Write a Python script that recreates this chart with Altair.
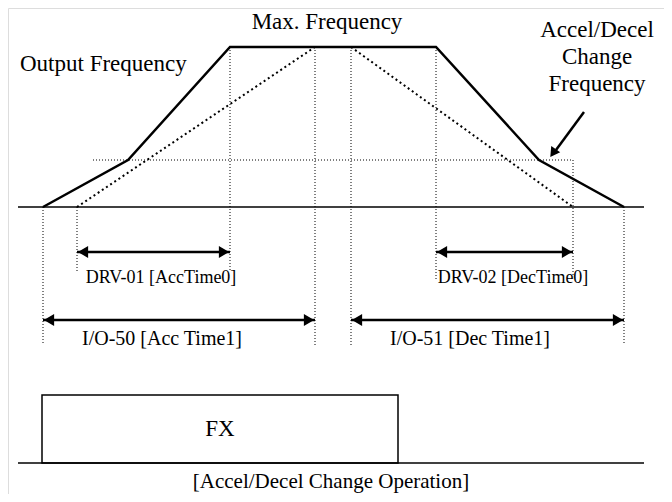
import altair as alt
import pandas as pd

# Diagram geometry in reference pixel units (x: time axis, y: frequency axis, downward)
out_x = [43, 128, 230, 436, 539, 624]
out_y = [207, 160, 47, 47, 160, 207]

acc_x = [77, 315]
acc_y = [207, 47]
dec_x = [351, 573]
dec_y = [47, 207]

base_x = [18, 644]
base_y = 207
knee_y = 160
knee_x = [93, 573]

vlines_x = [43, 77, 230, 315, 351, 436, 573, 624]
vlines_y1 = [207, 207, 47, 47, 47, 47, 160, 207]
vlines_y2 = [345, 273, 272, 345, 345, 280, 275, 345]

arrows = [
    # x1, x2, y, label, label_x, label_y, size
    (77, 230, 252, "DRV-01 [AccTime0]", 161, 278, 18),
    (436, 573, 252, "DRV-02 [DecTime0]", 513, 278, 18),
    (43, 315, 320, "I/O-50 [Acc Time1]", 162, 339, 20),
    (351, 624, 320, "I/O-51 [Dec Time1]", 470, 339, 20),
]

fx_box = (42, 398, 395, 463)
fx_line_x = [18, 644]

labels = [
    ("Max. Frequency", 327, 22, "center", 23),
    ("Output Frequency", 20, 64, "left", 23),
    ("Accel/Decel", 597, 30, "center", 23),
    ("Change", 597, 57, "center", 23),
    ("Frequency", 597, 84, "center", 23),
    ("FX", 220, 429, "center", 23),
    ("[Accel/Decel Change Operation]", 331, 482, "center", 21),
]

FONT = "Liberation Serif"
xs = alt.Scale(domain=[8, 664], nice=False, zero=False)
ys = alt.Scale(domain=[8, 494], nice=False, zero=False, reverse=True)
X = lambda f: alt.X(f, type="quantitative", scale=xs, axis=None)
Y = lambda f: alt.Y(f, type="quantitative", scale=ys, axis=None)

layers = []

# Output frequency (solid)
df_out = pd.DataFrame({"x": out_x, "y": out_y, "o": range(len(out_x))})
layers.append(alt.Chart(df_out).mark_line(color="black", strokeWidth=2.5).encode(
    x=X("x"), y=Y("y"), order="o:Q"))

# dotted acc/dec lines
df_acc = pd.DataFrame({"x": acc_x + dec_x, "y": acc_y + dec_y, "g": ["a", "a", "d", "d"]})
layers.append(alt.Chart(df_acc).mark_line(color="black", strokeWidth=2, strokeDash=[2, 3]).encode(
    x=X("x"), y=Y("y"), detail="g:N"))

# baseline
df_base = pd.DataFrame({"x": [base_x[0]], "x2": [base_x[1]], "y": [base_y]})
layers.append(alt.Chart(df_base).mark_rule(color="black", strokeWidth=1.5).encode(
    x=X("x"), x2="x2", y=Y("y")))

# knee dotted horizontal
df_knee = pd.DataFrame({"x": [knee_x[0]], "x2": [knee_x[1]], "y": [knee_y]})
layers.append(alt.Chart(df_knee).mark_rule(color="black", strokeWidth=1, strokeDash=[1, 2]).encode(
    x=X("x"), x2="x2", y=Y("y")))

# vertical dotted lines
df_v = pd.DataFrame({"x": vlines_x, "y": vlines_y1, "y2": vlines_y2})
layers.append(alt.Chart(df_v).mark_rule(color="black", strokeWidth=1, strokeDash=[1, 2]).encode(
    x=X("x"), y=Y("y"), y2="y2"))

# arrows
df_ar = pd.DataFrame([{"x": a[0], "x2": a[1], "y": a[2]} for a in arrows])
layers.append(alt.Chart(df_ar).mark_rule(color="black", strokeWidth=2.5).encode(
    x=X("x"), x2="x2", y=Y("y")))
df_hl = pd.DataFrame([{"x": a[0] + 6, "y": a[2]} for a in arrows])
df_hr = pd.DataFrame([{"x": a[1] - 6, "y": a[2]} for a in arrows])
layers.append(alt.Chart(df_hl).mark_point(shape="triangle-left", filled=True, color="black", size=140, opacity=1).encode(
    x=X("x"), y=Y("y")))
layers.append(alt.Chart(df_hr).mark_point(shape="triangle-right", filled=True, color="black", size=140, opacity=1).encode(
    x=X("x"), y=Y("y")))
for a in arrows:
    df_al = pd.DataFrame([{"x": a[4], "y": a[5], "t": a[3]}])
    layers.append(alt.Chart(df_al).mark_text(font=FONT, fontSize=a[6], color="black", baseline="middle").encode(
        x=X("x"), y=Y("y"), text="t:N"))

# pointer arrow to change frequency
df_p = pd.DataFrame({"x": [584], "x2": [556], "y": [112], "y2": [150]})
layers.append(alt.Chart(df_p).mark_rule(color="black", strokeWidth=2.5).encode(
    x=X("x"), x2="x2", y=Y("y"), y2="y2"))
df_ph = pd.DataFrame({"x": [553], "y": [153]})
layers.append(alt.Chart(df_ph).mark_point(shape="triangle-down", filled=True, color="black", size=120, opacity=1, angle=35).encode(
    x=X("x"), y=Y("y")))

# FX box
df_fx = pd.DataFrame({"x": [fx_box[0]], "x2": [fx_box[1]], "y": [fx_box[2]], "y2": [fx_box[3]]})
layers.append(alt.Chart(df_fx).mark_rect(fill="white", stroke="black", strokeWidth=1.5).encode(
    x=X("x"), x2="x2", y=Y("y"), y2="y2"))
df_fxl = pd.DataFrame({"x": [fx_line_x[0]], "x2": [fx_line_x[1]], "y": [fx_box[3]]})
layers.append(alt.Chart(df_fxl).mark_rule(color="black", strokeWidth=1.5).encode(
    x=X("x"), x2="x2", y=Y("y")))

# texts
for l in labels:
    df_t = pd.DataFrame([{"t": l[0], "x": l[1], "y": l[2]}])
    layers.append(alt.Chart(df_t).mark_text(font=FONT, fontSize=l[4], color="black", baseline="middle", align=l[3]).encode(
        x=X("x"), y=Y("y"), text="t:N"))

chart = alt.layer(*layers).properties(
    width=656, height=486, padding=0, autosize="none"
).configure_view(stroke=None).configure(background="white")

chart.save("out.html", embed_options={"renderer": "svg", "actions": False})
